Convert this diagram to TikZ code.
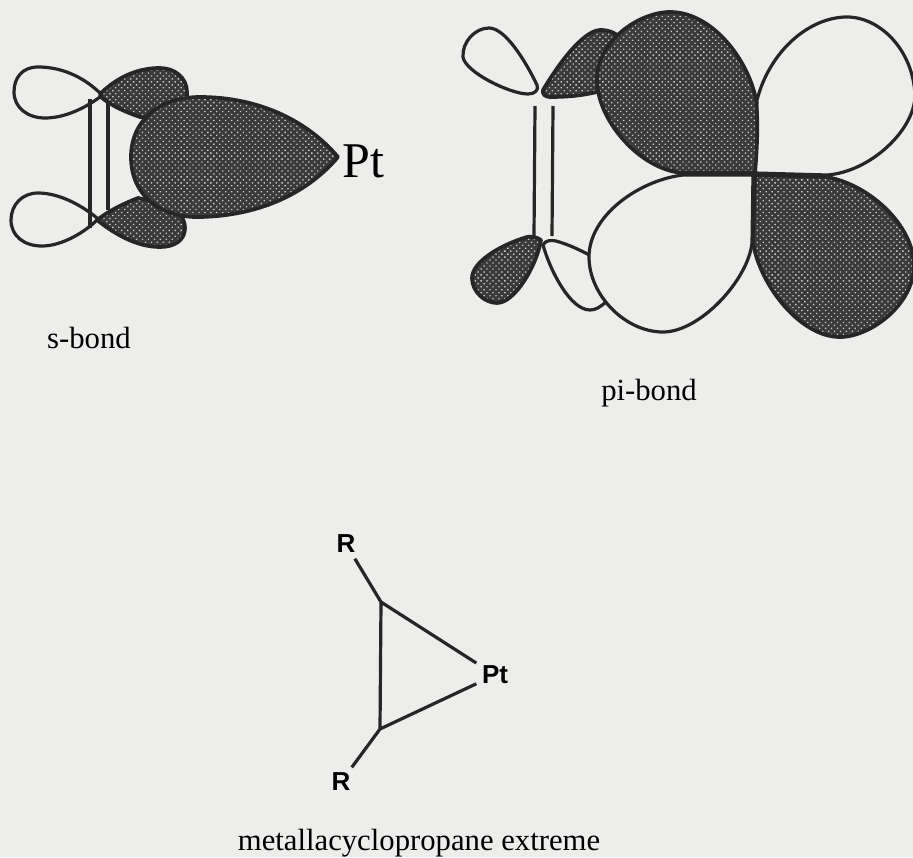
\documentclass[tikz,border=0pt]{standalone}
\usepackage{fontspec}
\setmainfont{Liberation Serif}
\setsansfont{Liberation Sans}
\usetikzlibrary{patterns.meta}
\definecolor{paper}{HTML}{EDEDEB}
\definecolor{stipple}{HTML}{3A3A3A}
\begin{document}
\begin{tikzpicture}[x=1pt,y=-1pt,line join=round,
    white lobe/.style={draw=black!85,line width=3.2pt,fill=paper},
    dark lobe/.style={draw=black!85,line width=3.7pt,preaction={fill=stipple},
      pattern={Dots[radius=0.95pt,distance=4.2pt,angle=45]},pattern color=paper!85!black},
    bond/.style={draw=black!85,line width=3.2pt},
    caption/.style={font=\fontsize{30.7}{32}\selectfont,inner sep=0pt},
    atom/.style={font=\sffamily\bfseries\fontsize{26}{27}\selectfont,inner sep=5.5pt}]
  \fill[paper] (0,0) rectangle (913,857);
  \useasboundingbox (0,0) rectangle (913,857);

  % s-bond
  \path[white lobe] (100,93) .. controls (80,74) and (58,67) .. (38,67)
    .. controls (22,67) and (14,78) .. (14,92) .. controls (14,108) and (28,118) .. (45,118)
    .. controls (65,118) and (85,108) .. (100,97) -- cycle;
  \path[white lobe] (97,218) .. controls (80,204) and (58,193) .. (38,193)
    .. controls (22,193) and (11,205) .. (11,220) .. controls (11,236) and (24,246) .. (42,246)
    .. controls (62,246) and (85,232) .. (97,220) -- cycle;
  \path[dark lobe] (101,93) .. controls (120,75) and (140,68) .. (160,68)
    .. controls (175,68) and (187,78) .. (187,92) -- (187,125) -- (140,117)
    .. controls (125,112) and (110,105) .. (101,97) -- cycle;
  \path[dark lobe] (97,220) .. controls (110,210) and (125,203) .. (138,198)
    -- (170,205) .. controls (180,212) and (185,220) .. (185,228)
    .. controls (185,240) and (175,247) .. (160,247)
    .. controls (135,247) and (112,232) .. (97,220) -- cycle;
  \coordinate (b1top) at (90,99);
  \coordinate (b1bot) at (90,228);
  \coordinate (b2top) at (108,103);
  \coordinate (b2bot) at (108,210);
  \draw[bond] (b1top) -- (b1bot);
  \draw[bond] (b2top) -- (b2bot);
  \path[dark lobe] (338,157) .. controls (305,118) and (255,97) .. (200,97)
    .. controls (160,97) and (131,120) .. (131,157) .. controls (131,195) and (160,218) .. (200,217)
    .. controls (255,216) and (305,196) .. (338,157) -- cycle;
  \node[anchor=base west,inner sep=0pt,font=\fontsize{50}{52}\selectfont] (ptbig) at (342,177) {Pt};
  \node[caption] (sbond) at (89,338) {s-bond};

  % pi-bond
  \path[white lobe] (537,85) .. controls (525,60) and (505,28) .. (489,28)
    .. controls (475,28) and (462,42) .. (463,57) .. controls (465,72) and (510,94) .. (528,94)
    .. controls (535,94) and (539,90) .. (537,85) -- cycle;
  \path[dark lobe] (543,90) .. controls (570,45) and (590,30) .. (600,30)
    .. controls (608,30) and (613,32) .. (617,35) -- (597,92)
    .. controls (580,96) and (565,97) .. (550,97) .. controls (545,97) and (542,94) .. (543,90) -- cycle;
  \path[dark lobe] (541,240) .. controls (537,237) and (530,236) .. (527,237)
    .. controls (500,245) and (472,262) .. (472,278) .. controls (472,292) and (485,303) .. (497,303)
    .. controls (515,303) and (537,265) .. (541,240) -- cycle;
  \path[white lobe] (543,245) .. controls (545,240) and (552,240) .. (556,241)
    .. controls (570,245) and (580,250) .. (595,258) -- (606,302)
    .. controls (600,307) and (596,310) .. (590,310) .. controls (570,310) and (550,270) .. (543,245) -- cycle;
  \path[white lobe] (757,100) .. controls (770,50) and (810,17) .. (847,17)
    .. controls (880,17) and (913,50) .. (915,95) .. controls (915,130) and (870,172) .. (827,175)
    -- (755,173) -- cycle;
  \path[white lobe] (753,175) -- (683,175) .. controls (640,180) and (589,215) .. (589,257)
    .. controls (589,295) and (625,332) .. (663,332) .. controls (700,332) and (748,280) .. (752,243) -- cycle;
  \path[dark lobe] (755,173) .. controls (757,150) and (759,115) .. (755,95)
    .. controls (745,55) and (710,12) .. (670,12) .. controls (640,12) and (597,40) .. (597,80)
    .. controls (597,120) and (640,170) .. (683,173) -- cycle;
  \path[dark lobe] (755,175) -- (827,177) .. controls (870,185) and (913,225) .. (914,265)
    .. controls (914,305) and (870,337) .. (840,337) .. controls (800,337) and (760,285) .. (753,243) -- cycle;
  \coordinate (b3top) at (535,106);
  \coordinate (b3bot) at (534,236);
  \coordinate (b4top) at (553,106);
  \coordinate (b4bot) at (552,236);
  \draw[bond] (b3top) -- (b3bot);
  \draw[bond] (b4top) -- (b4bot);
  \node[caption] (pibond) at (649,393) {pi-bond};

  % metallacyclopropane
  \coordinate (ctop) at (381,602);
  \coordinate (cbot) at (380,729);
  \node[atom] (rtop) at (346,544) {R};
  \node[atom] (rbot) at (341,782) {R};
  \node[atom] (pt) at (495,675) {Pt};
  \draw[bond] (ctop) -- (cbot) (ctop) -- (pt) (cbot) -- (pt)
    (rtop) -- (ctop) (rbot) -- (cbot);
  \node[caption] (metalla) at (419,843) {metallacyclopropane extreme};
\end{tikzpicture}
\end{document}
